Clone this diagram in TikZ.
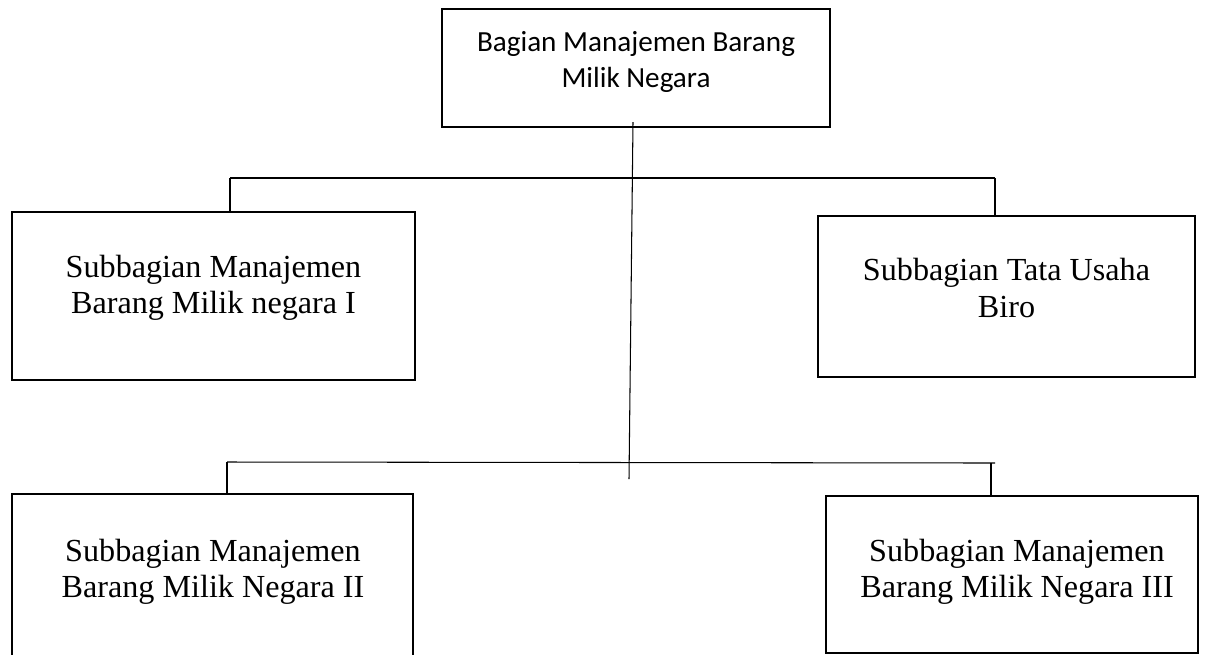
\documentclass[tikz,border=0pt]{standalone}
\usepackage{fontspec}
\setmainfont{Liberation Serif}
\newfontfamily\bmnsans{Carlito}
\usetikzlibrary{positioning}
\begin{document}
\begin{tikzpicture}[
  x=0.02cm, y=-0.02cm,
  bmnbox/.style = {draw, line width=1.1pt, inner sep=0pt},
  bmnline/.style = {line width=0.6pt},
  bmnsub/.style = {align=center, font=\fontsize{18.3}{20.6}\selectfont},
  bmnhead/.style = {align=center, font=\bmnsans\fontsize{16.6}{21}\selectfont}
]
  \useasboundingbox (0,0) rectangle (1207,654);
  % kotak kepala bagian
  \node[bmnbox, minimum width=388*0.02cm, minimum height=118*0.02cm] (kabag) at (636,68) {};
  \node[bmnhead] (kabagt) at (636,62) {Bagian Manajemen Barang\\Milik Negara};
  % kotak subbagian atas
  \node[bmnbox, minimum width=403*0.02cm, minimum height=168*0.02cm] (sub1) at (213.5,296) {};
  \node[bmnsub] (sub1t) at (213.5,288) {Subbagian Manajemen\\Barang Milik negara I};
  \node[bmnbox, minimum width=377*0.02cm, minimum height=161*0.02cm] (subtu) at (1006.5,296.5) {};
  \node[bmnsub] (subtut) at (1006.5,288) {Subbagian Tata Usaha\\Biro};
  % kotak subbagian bawah
  \node[bmnbox, minimum width=401*0.02cm, minimum height=176*0.02cm] (sub2) at (212.5,582) {};
  \node[bmnsub] (sub2t) at (213,572) {Subbagian Manajemen\\Barang Milik Negara II};
  \node[bmnbox, minimum width=372*0.02cm, minimum height=157*0.02cm] (sub3) at (1012,574.5) {};
  \node[bmnsub] (sub3t) at (1017,572) {Subbagian Manajemen\\Barang Milik Negara III};
  % garis penghubung
  \coordinate (top0) at (633,122);
  \coordinate (top1) at (629,479);
  \coordinate (bar1l) at (230,178);
  \coordinate (bar1r) at (995,178);
  \coordinate (bar2l) at (227,462);
  \coordinate (bar2r) at (995,463);
  \coordinate (bar2d) at (991,463);
  \draw[bmnline] (top0) -- (top1);
  \draw[bmnline] (bar1l) -- (bar1r);
  \draw[bmnline] (bar1l) -- (bar1l |- sub1.north);
  \draw[bmnline] (bar1r) -- (bar1r |- subtu.north);
  \draw[bmnline] (bar2l) -- (bar2r);
  \draw[bmnline] (bar2l) -- (bar2l |- sub2.north);
  \draw[bmnline] (bar2d) -- (bar2d |- sub3.north);
\end{tikzpicture}
\end{document}
